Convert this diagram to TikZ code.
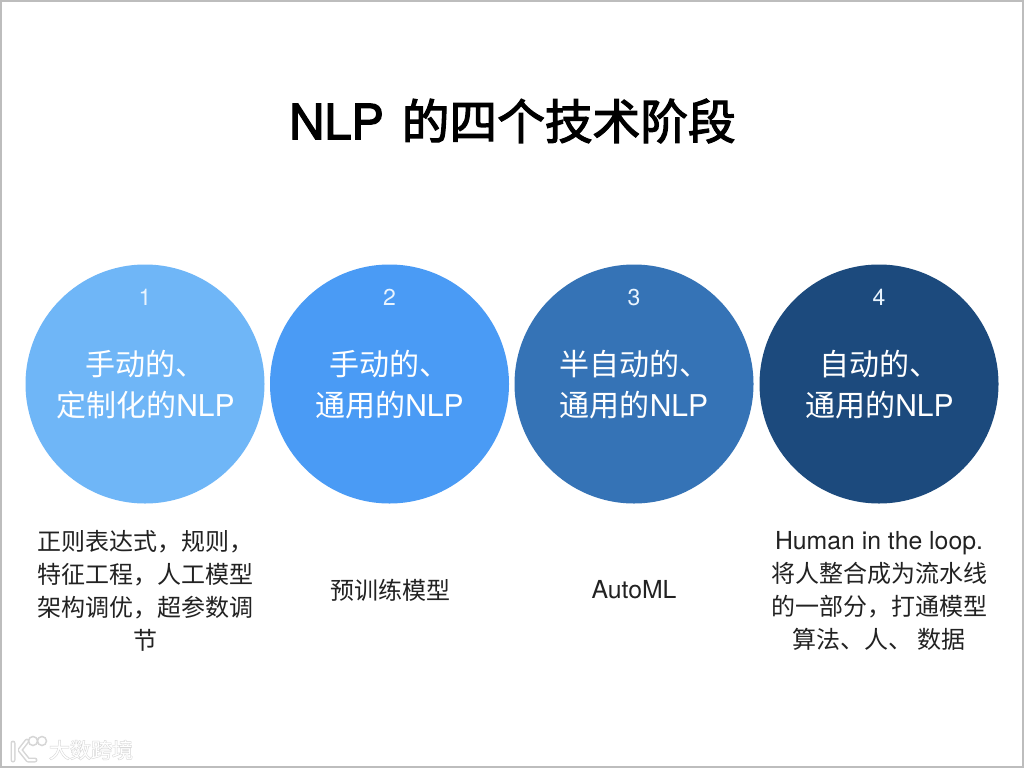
\documentclass[tikz,border=0pt]{standalone}
\usepackage{fontspec}
\setmainfont{Noto Sans CJK SC}
\newfontfamily\lat{TeX Gyre Heros}
\newfontfamily\titlecjk[FakeBold=2.5]{Noto Sans CJK SC}
\newfontfamily\titlelat[FakeBold=2.5]{TeX Gyre Heros}
\newfontfamily\wmfont[FakeBold=4]{Noto Sans CJK SC}
\definecolor{cOne}{HTML}{6FB6F7}
\definecolor{cTwo}{HTML}{4A9BF5}
\definecolor{cThree}{HTML}{3573B6}
\definecolor{cFour}{HTML}{1C4A7D}
\definecolor{frameGray}{HTML}{BDBDBD}
\definecolor{txt}{HTML}{222222}
\definecolor{wm}{HTML}{D6D6D6}
\tikzset{
 disc/.style={circle,minimum size=239pt,inner sep=0pt,outer sep=0pt},
 numlab/.style={text=white!85!cOne,font=\lat\fontsize{23}{23}\selectfont,inner sep=0pt},
 headlab/.style={text=white,font=\fontsize{30}{41}\selectfont,align=center,inner sep=0pt},
 bodylab/.style={text=txt,font=\fontsize{24}{33}\selectfont,align=center,inner sep=0pt},
 wmshade/.style={text=wm,font=\wmfont\fontsize{21}{21}\selectfont,inner sep=0pt},
 wmtop/.style={text=white,font=\fontsize{21}{21}\selectfont,inner sep=0pt},
 latbody/.style={font=\lat\fontsize{24.8}{33}\selectfont},
}
\begin{document}
\begin{tikzpicture}[x=1pt,y=-1pt]
\useasboundingbox (0,0) rectangle (1024,768);
\fill[white] (0,0) rectangle (1024,768);
\draw[frameGray,line width=2pt] (1,1) rectangle (1023,767);
\node[inner sep=0pt,font=\fontsize{48}{48}\selectfont,text=black] (title) at (512.5,121) {{\titlelat\fontsize{48.6}{48.6}\selectfont NLP}\hspace{18pt}{\titlecjk\fontsize{47.7}{48}\selectfont 的四个技术阶段}};
\node[disc,fill=cOne] (d1) at (145,384) {};
\node[disc,fill=cTwo] (d2) at (389.5,384) {};
\node[disc,fill=cThree] (d3) at (634,384) {};
\node[disc,fill=cFour] (d4) at (879,384) {};
\node[numlab] (n1) at (145,297.5) {1};
\node[numlab] (n2) at (389.5,297.5) {2};
\node[numlab] (n3) at (634,297.5) {3};
\node[numlab] (n4) at (879,297.5) {4};
\node[headlab] (h1) at (145.5,385) {手动的、\\定制化的{\lat NLP}};
\node[headlab] (h2) at (389.5,385) {手动的、\\通用的{\lat NLP}};
\node[headlab] (h3) at (634,385) {半自动的、\\通用的{\lat NLP}};
\node[headlab] (h4) at (879.5,385) {自动的、\\通用的{\lat NLP}};
\node[bodylab] (b1) at (145,590.5) {正则表达式，规则，\\特征工程，人工模型\\架构调优，超参数调\\节};
\node[bodylab] (b2) at (390,590) {预训练模型};
\node[bodylab,latbody] (b3) at (634,590) {AutoML};
\node[bodylab] (b4) at (879,590.5) {{\lat\fontsize{24.8}{33}\selectfont Human in the loop.}\\将人整合成为流水线\\的一部分，打通模型\\算法、人、 数据};
\node[wmshade] (w0) at (91,750) {大数跨境};
\node[wmtop] (w1) at (91,750) {大数跨境};
\draw[wm,line width=5pt,line cap=round,line join=round] (13,743) -- (13,760) (27,741) -- (20,750) -- (28,760) -- (35,760);
\draw[white,line width=2pt,line cap=round,line join=round] (13,743) -- (13,760) (27,741) -- (20,750) -- (28,760) -- (35,760);
\draw[wm,line width=1.5pt] (33,741) circle (4.5pt) (42,741) circle (4.5pt);
\end{tikzpicture}
\end{document}
